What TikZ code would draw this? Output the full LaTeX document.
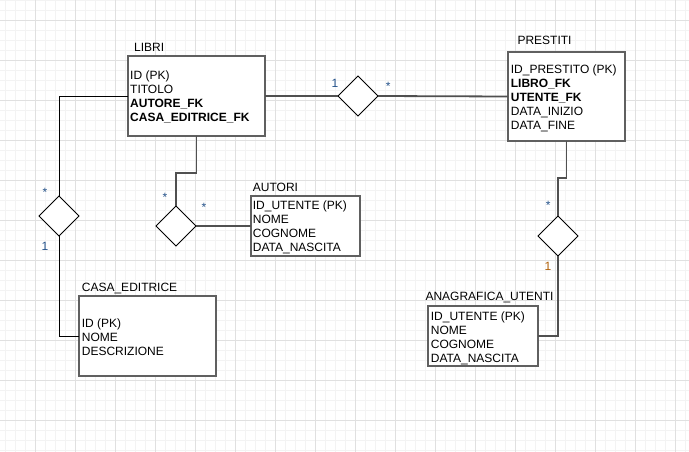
\documentclass[tikz,border=0pt]{standalone}
\usepackage{fontspec}
\setmainfont{Liberation Sans}
\usetikzlibrary{shapes.geometric}
\definecolor{gridmaj}{HTML}{E0E0E0}
\definecolor{gridmin}{HTML}{F3F3F3}
\definecolor{boxgray}{HTML}{606060}
\definecolor{linegray}{HTML}{505050}
\definecolor{labblue}{HTML}{24528A}
\definecolor{laborange}{HTML}{B06008}
\tikzset{
  entity/.style={draw=boxgray, line width=1.8pt, fill=white, inner sep=0pt, outer sep=0pt, rectangle},
  rel/.style={draw=black, line width=1pt, fill=white, diamond, minimum width=40pt, minimum height=40pt, inner sep=0pt, outer sep=0pt},
  conn/.style={draw=linegray, line width=1.8pt},
  connthin/.style={draw=black, line width=0.9pt},
  title/.style={anchor=base west, inner sep=0pt, font=\fontsize{12}{14}\selectfont},
  attrs/.style={anchor=base west, inner sep=0pt},
  mult/.style={anchor=center, inner sep=0pt, font=\fontsize{12}{14}\selectfont, text=labblue},
}
\newcommand{\attrlist}[1]{\parbox[t]{160pt}{\fontsize{12}{14.1}\selectfont\raggedright #1}}
\begin{document}
\begin{tikzpicture}[x=1pt,y=-1pt]
\useasboundingbox (0,0) rectangle (689,452);
\fill[white] (0,0) rectangle (689,452);
% grid
\foreach \i in {0,...,68} { \draw[gridmin, line width=0.8pt] ({5.7+10*\i},0) -- ({5.7+10*\i},452); }
\foreach \i in {0,...,45} { \draw[gridmin, line width=0.8pt] (0,{0.7+10*\i}) -- (689,{0.7+10*\i}); }
\foreach \i in {0,...,17} { \draw[gridmaj, line width=1pt] ({-4.3+40*\i},0) -- ({-4.3+40*\i},452); }
\foreach \i in {0,...,11} { \draw[gridmaj, line width=1pt] (0,{20.7+40*\i}) -- (689,{20.7+40*\i}); }

% entity boxes
\node[entity, minimum width=137pt, minimum height=80pt] (libri) at (196.5,96) {};
\node[entity, minimum width=117pt, minimum height=89pt] (prestiti) at (566.5,96.5) {};
\node[entity, minimum width=109pt, minimum height=60pt] (autori) at (305.5,226) {};
\node[entity, minimum width=137pt, minimum height=80pt] (casa) at (147.5,336) {};
\node[entity, minimum width=110pt, minimum height=60pt] (anag) at (483,336) {};

% relationships
\node[rel] (d1) at (59,216) {};
\node[rel] (d2) at (176,226) {};
\node[rel] (d3) at (358,96) {};
\node[rel] (d4) at (558,236) {};

% connectors
\draw[connthin] (libri.west) -| (d1.north);
\draw[connthin] (d1.south) |- (casa.west);
\draw[conn] (libri.south) -- ++(0,37) -| (d2.north);
\draw[conn] (d2.east) -- (autori.west);
\draw[conn] (libri.east) -- (d3.west);
\draw[conn] (d3.east) -- (prestiti.west);
\draw[conn] (prestiti.south) -- ++(0,37) -| (d4.north);
\draw[conn] (d4.south) |- (anag.east);

% titles
\node[title] (tlibri) at (134,51.3) {LIBRI};
\node[title] (tprestiti) at (517.3,45) {PRESTITI};
\node[title] (tautori) at (252.7,191) {AUTORI};
\node[title] (tcasa) at (81.7,291) {CASA\_EDITRICE};
\node[title] (tanag) at (425.3,300.3) {ANAGRAFICA\_UTENTI};

% attributes
\node[attrs] (alibri) at (130,79.3) {\attrlist{ID (PK)\\TITOLO\\\textbf{AUTORE\_FK}\\\textbf{CASA\_EDITRICE\_FK}}};
\node[attrs] (aprestiti) at (510.7,73.3) {\attrlist{ID\_PRESTITO (PK)\\\textbf{LIBRO\_FK}\\\textbf{UTENTE\_FK}\\DATA\_INIZIO\\DATA\_FINE}};
\node[attrs] (aautori) at (252.7,209.3) {\attrlist{ID\_UTENTE (PK)\\NOME\\COGNOME\\DATA\_NASCITA}};
\node[attrs] (acasa) at (81.7,327) {\attrlist{ID (PK)\\NOME\\DESCRIZIONE}};
\node[attrs] (aanag) at (430.7,320.3) {\attrlist{ID\_UTENTE (PK)\\NOME\\COGNOME\\DATA\_NASCITA}};

% multiplicities
\node[mult] (m1) at (45,192) {*};
\node[mult] (m2) at (45,246.5) {1};
\node[mult] (m3) at (165,197) {*};
\node[mult] (m4) at (204,207) {*};
\node[mult] (m5) at (335,83.3) {1};
\node[mult] (m6) at (388.3,86) {*};
\node[mult] (m7) at (548.3,205.5) {*};
\node[mult, text=laborange] (m8) at (548,266.5) {1};
\end{tikzpicture}
\end{document}
